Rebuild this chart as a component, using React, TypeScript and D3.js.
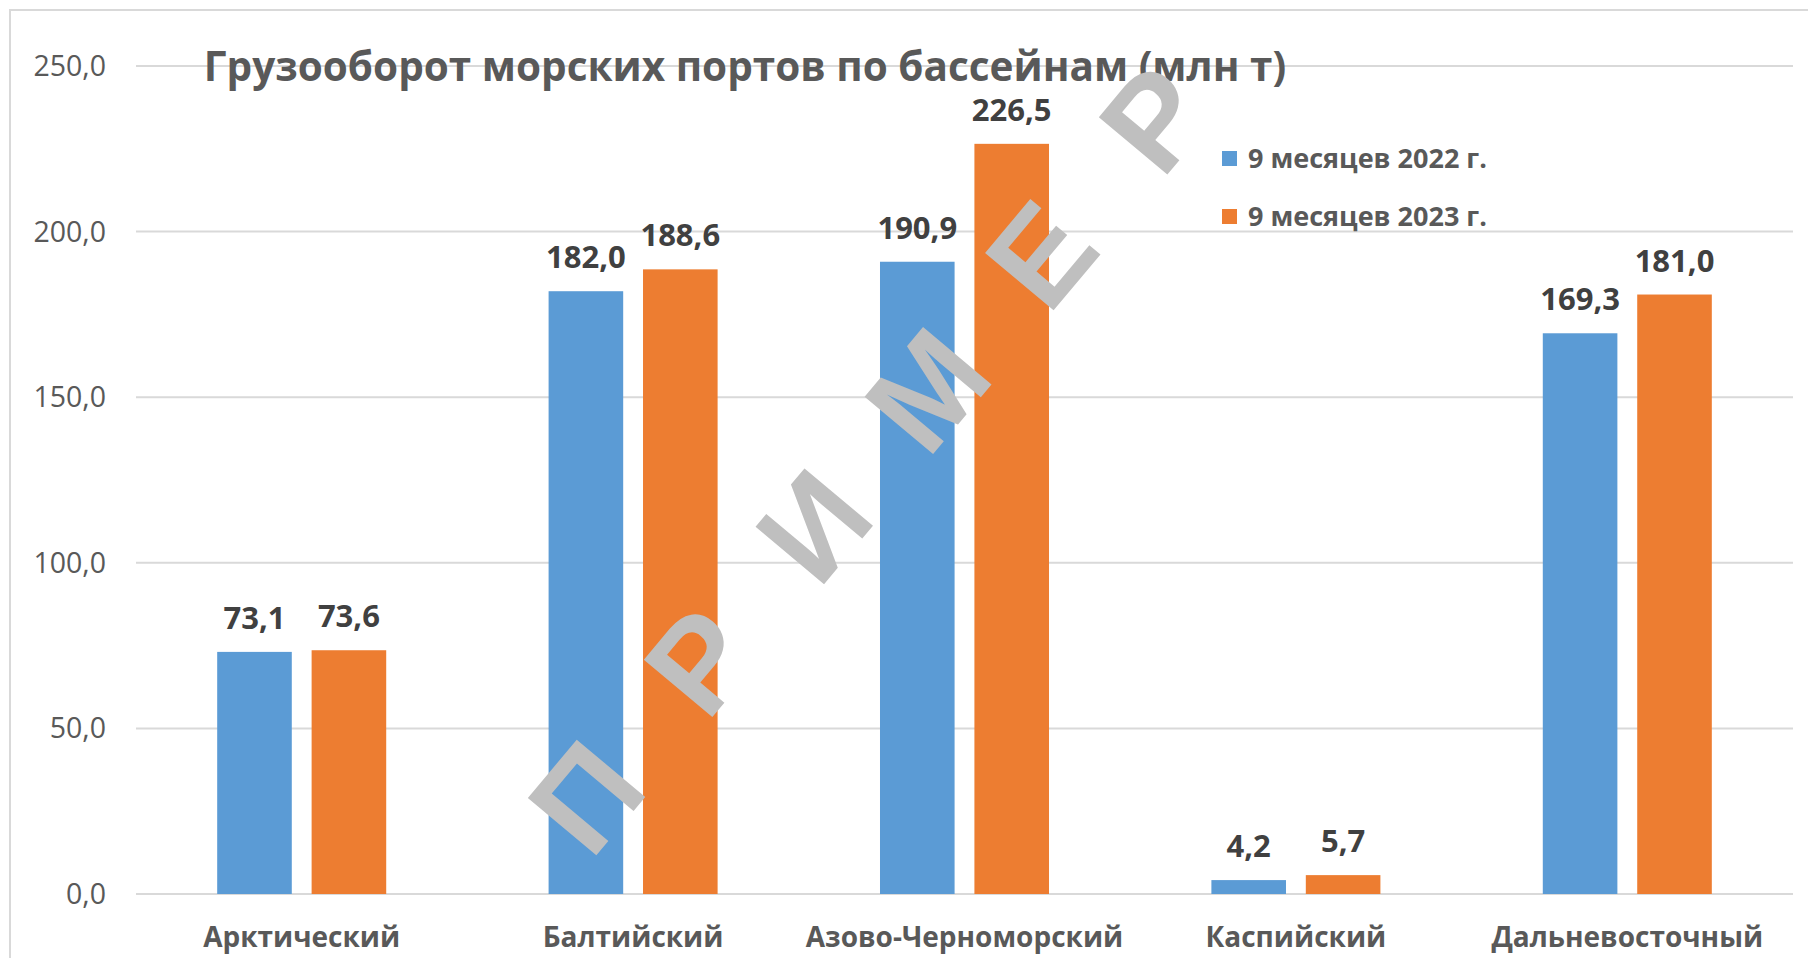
import React, { useEffect, useRef } from 'react';
import * as d3 from 'd3';

// Basins and values (mln t)
const categories = ['Арктический', 'Балтийский', 'Азово-Черноморский', 'Каспийский', 'Дальневосточный'];
const seriesNames = ['9 месяцев 2022 г.', '9 месяцев 2023 г.'];
const values2022 = [73.1, 182.0, 190.9, 4.2, 169.3];
const values2023 = [73.6, 188.6, 226.5, 5.7, 181.0];
const yTicks = [0, 50, 100, 150, 200, 250];
const watermark = ['П', 'Р', 'И', 'М', 'Е', 'Р'];

const colors = ['#5B9BD5', '#ED7D31'];
const fmt = (v: number) => v.toFixed(1).replace('.', ',');

const App = () => {
  const svgRef = useRef<SVGSVGElement>(null);

  useEffect(() => {
    const width = 1808;
    const height = 958;
    const svg = d3.select(svgRef.current);
    svg.selectAll('*').remove();
    svg.attr('width', width).attr('height', height).style('background', '#fff');

    const plot = { left: 136, right: 1793, top: 66, bottom: 894 };
    const font = '"Open Sans", sans-serif';

    // frame of the original chart area (cropped on right/bottom)
    svg.append('path')
      .attr('d', `M10,${height} L10,10 L${width},10`)
      .attr('fill', 'none')
      .attr('stroke', '#d9d9d9')
      .attr('stroke-width', 2);

    const x0 = d3.scaleBand<string>()
      .domain(categories)
      .range([plot.left, plot.right])
      .paddingInner(0.49)
      .paddingOuter(0.245);

    const x1 = d3.scaleBand<number>()
      .domain([0, 1])
      .range([0, x0.bandwidth()])
      .paddingInner(0.21);

    const y = d3.scaleLinear().domain([0, 250]).range([plot.bottom, plot.top]);

    // gridlines
    svg.append('g')
      .selectAll('line')
      .data(yTicks)
      .enter()
      .append('line')
      .attr('x1', plot.left)
      .attr('x2', plot.right)
      .attr('y1', (d) => y(d))
      .attr('y2', (d) => y(d))
      .attr('stroke', '#d9d9d9')
      .attr('stroke-width', 2);

    // y tick labels
    svg.append('g')
      .selectAll('text')
      .data(yTicks)
      .enter()
      .append('text')
      .attr('x', 106)
      .attr('y', (d) => y(d))
      .attr('dy', '0.35em')
      .attr('text-anchor', 'end')
      .attr('font-family', font)
      .attr('font-size', 28.5)
      .attr('fill', '#595959')
      .text((d) => fmt(d));

    // title
    svg.append('text')
      .attr('x', 745)
      .attr('y', 81)
      .attr('text-anchor', 'middle')
      .attr('font-family', font)
      .attr('font-weight', 'bold')
      .attr('font-size', 40.5)
      .attr('fill', '#595959')
      .text('Грузооборот морских портов по бассейнам (млн т)');

    const series = [values2022, values2023];

    series.forEach((vals, si) => {
      const g = svg.append('g');
      g.selectAll('rect')
        .data(vals)
        .enter()
        .append('rect')
        .attr('x', (d, i) => (x0(categories[i]) as number) + (x1(si) as number))
        .attr('y', (d) => y(d))
        .attr('width', x1.bandwidth())
        .attr('height', (d) => y(0) - y(d))
        .attr('fill', colors[si]);

      g.selectAll('text')
        .data(vals)
        .enter()
        .append('text')
        .attr('x', (d, i) => (x0(categories[i]) as number) + (x1(si) as number) + x1.bandwidth() / 2)
        .attr('y', (d) => y(d) - 23)
        .attr('text-anchor', 'middle')
        .attr('font-family', font)
        .attr('font-weight', 'bold')
        .attr('font-size', 31)
        .attr('fill', '#404040')
        .text((d) => fmt(d));
    });

    // category labels
    svg.append('g')
      .selectAll('text')
      .data(categories)
      .enter()
      .append('text')
      .attr('x', (d) => (x0(d) as number) + x0.bandwidth() / 2)
      .attr('y', 947)
      .attr('text-anchor', 'middle')
      .attr('font-family', font)
      .attr('font-weight', 'bold')
      .attr('font-size', 28)
      .attr('fill', '#595959')
      .text((d) => d);

    // legend
    const legend = svg.append('g').attr('transform', 'translate(1222,159)');
    seriesNames.forEach((name, i) => {
      const row = legend.append('g').attr('transform', `translate(0,${i * 58})`);
      row.append('rect')
        .attr('x', 0)
        .attr('y', -8)
        .attr('width', 15)
        .attr('height', 15)
        .attr('fill', colors[i]);
      row.append('text')
        .attr('x', 26)
        .attr('y', 0)
        .attr('dy', '0.35em')
        .attr('font-family', font)
        .attr('font-weight', 'bold')
        .attr('font-size', 27)
        .attr('fill', '#595959')
        .text(name);
    });

    // watermark "ПРИМЕР" along a diagonal
    const angle = -50;
    const start = [585, 796];
    const step = 177;
    const rad = (angle * Math.PI) / 180;
    svg.append('g')
      .selectAll('text')
      .data(watermark)
      .enter()
      .append('text')
      .attr('transform', (d, i) => {
        const cx = start[0] + Math.cos(rad) * step * i;
        const cy = start[1] + Math.sin(rad) * step * i;
        return `translate(${cx},${cy}) rotate(${angle})`;
      })
      .attr('text-anchor', 'middle')
      .attr('dy', '0.36em')
      .attr('font-family', '"Liberation Sans", Arial, sans-serif')
      .attr('font-weight', 'bold')
      .attr('font-size', 130)
      .attr('fill', '#bfbfbf')
      .text((d) => d);
  }, []);

  return (
    <div style={{ position: 'absolute', left: 0, top: 0 }}>
      <svg ref={svgRef} style={{ display: 'block' }}></svg>
    </div>
  );
};

export default App;
